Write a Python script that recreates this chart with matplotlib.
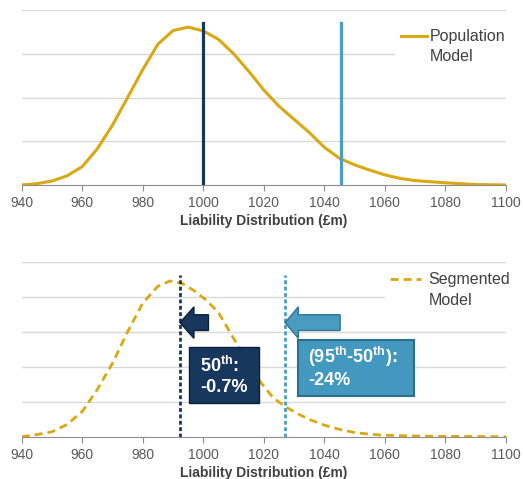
import matplotlib
matplotlib.use('Agg')
import matplotlib.pyplot as plt
from matplotlib.lines import Line2D
from matplotlib.patches import FancyArrow, Rectangle

plt.rcParams['font.family'] = ['Liberation Sans', 'DejaVu Sans']
plt.rcParams['mathtext.fontset'] = 'custom'
plt.rcParams['mathtext.rm'] = 'Liberation Sans:bold'
plt.rcParams['mathtext.bf'] = 'Liberation Sans:bold'
plt.rcParams['mathtext.default'] = 'bf'

# population model curve (y in gridline units)
x_pop = [940, 945, 950, 955, 960, 965, 970, 975, 980, 985, 990, 995, 1000, 1005,
         1010, 1015, 1020, 1025, 1030, 1035, 1040, 1045, 1050, 1055, 1060, 1065,
         1070, 1080, 1090, 1100]
dens_pop = [0.0, 0.03, 0.09, 0.21, 0.42, 0.83, 1.37, 2.00, 2.64, 3.22, 3.53, 3.61,
            3.52, 3.33, 3.00, 2.60, 2.17, 1.80, 1.50, 1.20, 0.86, 0.61, 0.46, 0.34,
            0.23, 0.15, 0.10, 0.05, 0.01, 0.0]

# segmented model curve
x_seg = [940, 945, 950, 955, 960, 965, 970, 975, 980, 985, 989, 993, 997, 1001,
         1005, 1010, 1015, 1019, 1023, 1027, 1032, 1036, 1040, 1045, 1050, 1055,
         1060, 1070, 1080, 1100]
dens_seg = [0.0, 0.06, 0.14, 0.35, 0.72, 1.35, 2.10, 3.00, 3.82, 4.30, 4.45, 4.38,
            4.17, 3.90, 3.55, 2.81, 2.10, 1.55, 1.12, 0.86, 0.62, 0.46, 0.33, 0.21,
            0.12, 0.07, 0.04, 0.02, 0.01, 0.0]

p50_pop, p95_pop = 1000, 1045.4
p50_seg, p95_seg = 992.3, 1027

xticks = list(range(940, 1101, 20))
xlabel = 'Liability Distribution (£m)'
box1_lines = ['50$^{th}$:', '-0.7%']
box2_lines = ['(95$^{th}$-50$^{th}$):', '-24%']

gold = '#DAA813'
navy = '#17375E'
lblue = '#4398BF'
grey_txt = '#595959'

fig = plt.figure(figsize=(5.23, 4.79), dpi=100)
ax1 = fig.add_axes([0.0415, 0.6138, 0.926, 0.3653])
ax2 = fig.add_axes([0.0415, 0.0883, 0.926, 0.3653])


def style(ax, ymax):
    ax.set_xlim(940, 1100)
    ax.set_ylim(0, ymax)
    ax.set_xticks(xticks)
    ax.set_yticks(range(1, ymax + 1))
    ax.set_yticklabels([])
    ax.tick_params(axis='y', length=0)
    ax.tick_params(axis='x', length=4, color='#8c8c8c', labelsize=10,
                   labelcolor=grey_txt, pad=4)
    ax.grid(axis='y', color='#d9d9d9', lw=1)
    ax.set_axisbelow(True)
    for s in ['top', 'left', 'right']:
        ax.spines[s].set_visible(False)
    ax.spines['bottom'].set_color('#8c8c8c')
    ax.set_xlabel(xlabel, fontsize=10, fontweight='bold', color='#404040', labelpad=3)


style(ax1, 4)
style(ax2, 5)

blank = Line2D([], [], color='none')

# top panel
line1, = ax1.plot(x_pop, dens_pop, color=gold, lw=2.2, zorder=3,
                  solid_joinstyle='round')
ax1.axvline(p50_pop, ymax=0.928, color=navy, lw=2.3, zorder=4)
ax1.axvline(p95_pop, ymax=0.928, color='#4A9DC5', lw=2.3, zorder=4)
ax1.legend([line1, blank], ['Population', 'Model'], loc='upper left',
           bbox_to_anchor=(0.77, 0.927), fontsize=11.5, frameon=True,
           facecolor='white', edgecolor='none', framealpha=1, fancybox=False,
           borderpad=0.4, borderaxespad=0, handlelength=1.65, handletextpad=0.15,
           labelspacing=0.33, labelcolor='#404040')

# bottom panel
line2, = ax2.plot(x_seg, dens_seg, color=gold, lw=2, ls=(0, (2.9, 1.8)), zorder=3,
                  dash_joinstyle='round')
ax2.axvline(p50_seg, ymax=0.924, color=navy, lw=2.0, ls=(0, (1.4, 0.9)), zorder=4)
ax2.axvline(p95_seg, ymax=0.924, color='#4A9DC5', lw=2.0, ls=(0, (1.4, 0.9)), zorder=4)
ax2.legend([line2, blank], ['Segmented', 'Model'], loc='upper left',
           bbox_to_anchor=(0.751, 0.967), fontsize=11.5, frameon=True,
           facecolor='white', edgecolor='none', framealpha=1, fancybox=False,
           borderpad=0.3, borderaxespad=0, handlelength=1.95, handletextpad=0.45,
           labelspacing=0.33, labelcolor='#404040')

# arrows pointing to the shifted percentiles
ax2.add_patch(FancyArrow(1001.7, 3.26, p50_seg - 1001.7, 0, width=0.45,
                         head_width=0.9, head_length=4.6, length_includes_head=True,
                         facecolor=navy, edgecolor='#0C2038', lw=1, zorder=6))
ax2.add_patch(FancyArrow(1045.2, 3.26, p95_seg - 1045.2, 0, width=0.45,
                         head_width=0.9, head_length=4.4, length_includes_head=True,
                         facecolor='#4A9BC0', edgecolor='#2F7490', lw=1, zorder=6))

# text boxes
ax2.add_patch(Rectangle((995.3, 0.96), 23.1, 1.61, facecolor=navy,
                        edgecolor='#0C2038', lw=1, zorder=6))
ax2.add_patch(Rectangle((1031.2, 1.17), 38.5, 1.59, facecolor=lblue,
                        edgecolor='#2D6E8C', lw=1.5, zorder=6))
ax2.text(998.9, 1.86, box1_lines[0], color='white', fontsize=13,
         fontweight='bold', va='baseline', zorder=7)
ax2.text(998.9, 1.29, box1_lines[1], color='white', fontsize=13,
         fontweight='bold', va='baseline', zorder=7)
ax2.text(1034.75, 2.10, box2_lines[0], color='white', fontsize=13,
         fontweight='bold', va='baseline', zorder=7)
ax2.text(1034.75, 1.48, box2_lines[1], color='white', fontsize=13,
         fontweight='bold', va='baseline', zorder=7)

fig.savefig('out.png', dpi=100)
